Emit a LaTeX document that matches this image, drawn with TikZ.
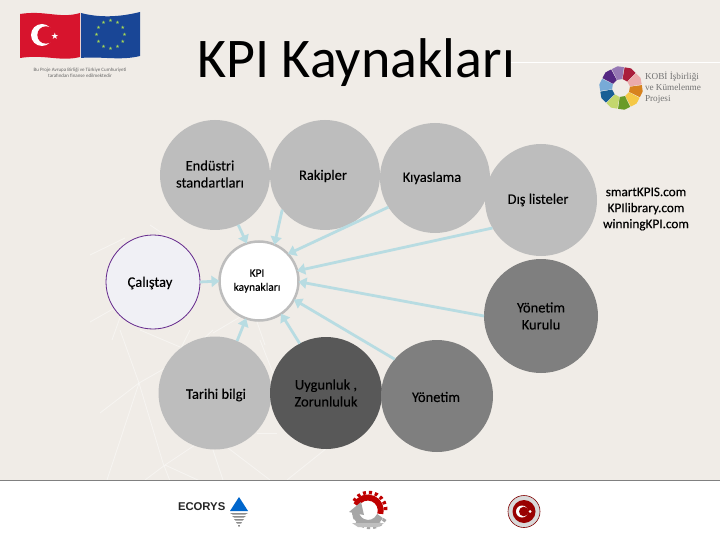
\documentclass[tikz,border=0pt]{standalone}
\usepackage{fontspec}
\setmainfont{Carlito}
\newfontfamily\labelf[FakeBold=0.3]{Carlito}
\newfontfamily\logoserif{Liberation Serif}
\newfontfamily\logosans{Liberation Sans}
\newfontfamily\symf{DejaVu Sans}
\definecolor{bgc}{RGB}{240,236,231}
\definecolor{arrc}{RGB}{184,220,226}
\definecolor{g1}{RGB}{189,189,189}
\definecolor{g3}{RGB}{127,127,127}
\definecolor{g4}{RGB}{88,88,88}
\definecolor{flagred}{RGB}{215,20,45}
\definecolor{flagblue}{RGB}{25,70,150}
\definecolor{palec}{RGB}{240,240,245}
\definecolor{purp}{RGB}{100,40,140}
\definecolor{wa}{RGB}{170,30,60}
\definecolor{wb}{RGB}{235,170,170}
\definecolor{wc}{RGB}{215,130,30}
\definecolor{wd}{RGB}{245,200,70}
\definecolor{we}{RGB}{105,155,40}
\definecolor{wf}{RGB}{195,215,110}
\definecolor{wg}{RGB}{25,95,150}
\definecolor{wh}{RGB}{120,170,215}
\definecolor{wi}{RGB}{85,40,130}
\definecolor{wj}{RGB}{150,120,180}
\usetikzlibrary{arrows.meta}
\tikzset{
 circ/.style={circle,inner sep=0pt,outer sep=0pt,minimum size=#1,fill=g1},
 lab/.style={inner sep=0pt,outer sep=0pt,align=center,font=\labelf\fontsize{14.5}{17}\selectfont,text=black},
 arr/.style={draw=arrc,line width=2.8pt,-{Triangle[length=8pt,width=11pt]}},
 faint/.style={draw=white,line width=0.8pt,opacity=.45},
 small/.style={inner sep=0pt,outer sep=0pt,align=center}}
\begin{document}
\begin{tikzpicture}[x=1pt,y=-1pt]
\useasboundingbox (0,0) rectangle (720,540);
\fill[bgc] (0,0) rectangle (720,481);
% background network
\draw[faint] (120,330) -- (139,383) -- (163,463) -- (170,481);
\draw[faint] (100,413) -- (139,383) -- (183,358) -- (213,330);
\draw[faint] (139,383) -- (107,480);
\draw[faint] (145,480) -- (165,465) -- (195,445);
\draw[faint] (165,465) -- (200,481);
\draw[faint] (213,450) -- (223,480);
\draw[faint] (228,448) -- (270,480);
\draw[faint] (287,480) -- (327,448);
\draw[faint] (140,330) -- (180,347);
\draw[faint] (190,330) -- (180,350);
\draw[faint] (260,340) -- (273,373);
\draw[faint] (257,433) -- (277,433);
\draw[faint] (257,322) -- (265,345);
\draw[faint] (240,317) -- (213,333);
\draw[faint] (90,255) -- (125,238);
\draw[faint] (90,322) -- (120,305);
\draw[faint] (112,340) -- (122,312);
\draw[faint] (150,225) -- (180,245);
\coordinate (ruleL) at (510,62); \coordinate (ruleR) at (720,62);
\draw[white,line width=0.8pt] (ruleL) -- (ruleR);
% footer
\fill[white] (0,481) rectangle (720,540);
\coordinate (footL) at (0,480.5); \coordinate (footR) at (720,480.5);
\draw[black!50,line width=1pt] (footL) -- (footR);
% title
\node[small,anchor=base west,font=\fontsize{56}{60}\selectfont] (title) at (197,78) {KPI Kaynakları};
% circles
\node[circ=110pt] (end) at (215,175) {};
\node[circ=110pt] (rak) at (325,175) {};
\node[circ=110pt] (kiy) at (435,178) {};
\node[circ=112pt] (dis) at (541,200) {};
\node[circ=94pt,fill=palec,draw=purp,line width=.8pt] (cal) at (153,282) {};
\node[circ=114pt,fill=g3] (yk) at (541,316) {};
\node[circ=113pt] (tar) at (215,393) {};
\node[circ=112pt,fill=g4] (uyg) at (326,393) {};
\node[circ=112pt,fill=g3] (yon) at (437,396) {};
\node[circ=79pt,fill=white,draw=g1,line width=2.5pt] (kpi) at (259,281) {};
% connectors
\draw[arr] (end.-65) -- (kpi.108);
\draw[arr] (rak.219) -- (kpi.67);
\draw[arr] (kiy.212) -- (kpi.43);
\draw[arr] (dis.210) -- (kpi.15);
\draw[arr] (yk.180) -- (kpi.-1);
\draw[arr] (yon.139) -- (kpi.-28);
\draw[arr] (uyg.118) -- (kpi.-56);
\draw[arr] (tar.67) -- (kpi.-109);
\draw[arr] (cal.0) -- (kpi.180);
% labels
\node[lab] (lend) at (210,174) {Endüstri\\standartları};
\node[lab] (lrak) at (323,176) {Rakipler};
\node[lab] (lkiy) at (432,178) {Kıyaslama};
\node[lab] (ldis) at (538,200) {Dış listeler};
\node[lab] (lcal) at (150,283) {Çalıştay};
\node[lab] (lyk) at (541,316) {Yönetim\\Kurulu};
\node[lab] (ltar) at (216,395) {Tarihi bilgi};
\node[lab] (luyg) at (326,393) {Uygunluk ,\\Zorunluluk};
\node[lab] (lyon) at (436,397) {Yönetim};
\node[lab,font=\labelf\fontsize{11.4}{14}\selectfont] (lkpi) at (257,281) {KPI\\kaynakları};
% right text
\node[lab,font=\labelf\fontsize{13.2}{16}\selectfont] (web) at (646,209) {smartKPIS.com\\KPIlibrary.com\\winningKPI.com};
% EU/TR flags logo
\fill[flagred] (20,14) .. controls (45,10) and (60,19) .. (80,13) -- (80,57) .. controls (60,62) and (45,54) .. (20,58) -- cycle;
\fill[flagblue] (81,13) .. controls (100,18) and (120,17) .. (140,12) -- (140,56) .. controls (120,61) and (100,56) .. (81,58) -- cycle;
\fill[white] (42,35) circle (11);
\fill[flagred] (46,35) circle (8.7);
\node[small,text=white,font=\symf\fontsize{9}{9}\selectfont] (trstar) at (55,36) {★};
\foreach \a in {0,30,...,330} \node[small,text=yellow!55!green!75!white,font=\symf\fontsize{5}{5}\selectfont] at ([shift={(\a:14)}]110.7,35) {★};
\node[small,text=black!60,font=\fontsize{5}{5.6}\selectfont] (eucap) at (80,72.5) {Bu Proje Avrupa Birliği ve Türkiye Cumhuriyeti\\tarafından finanse edilmektedir};
% wheel logo
\foreach \c/\a in {wa/-80,wb/-44,wc/-8,wd/28,we/64,wf/100,wg/136,wh/172,wi/208,wj/244}
 \fill[\c] ([shift={(\a:9)}]621,88) -- ([shift={(\a:21)}]621,88) -- ([shift={(\a+17:22)}]621,88) -- ([shift={(\a+34:21)}]621,88) -- ([shift={(\a+34:9)}]621,88) -- cycle;
\node[small,align=left,anchor=west,text=black!55,font=\logoserif\fontsize{9.2}{10.8}\selectfont] (kobi) at (645,87.5) {KOBİ İşbirliği\\ve Kümelenme\\Projesi};
% footer logos
\node[small,anchor=west,font=\logosans\bfseries\fontsize{11.3}{11}\selectfont,text=black!85] (eco) at (178,506.5) {ECORYS};
\fill[blue!50!cyan!80!black] (239,497) -- (248,511) -- (230,511) -- cycle;
\foreach \yy/\w in {513/9,516/7,519/5,522/3,525/1} \fill[black!45] (239-\w,\yy) -- (239+\w,\yy) -- (239+\w*.7,\yy+1.5) -- (239-\w*.7,\yy+1.5) -- cycle;
% gear logo
\draw[red!75!black,line width=3.5pt,dash pattern=on 3pt off 3pt] (354,501) arc[start angle=-150,end angle=10,radius=17];
\draw[red!75!black,line width=6pt] (356,505) arc[start angle=-155,end angle=15,radius=13];
\draw[black!35,line width=3.5pt,dash pattern=on 3pt off 3pt] (385,519) arc[start angle=30,end angle=165,radius=17];
\draw[black!35,line width=7pt] (380,516) arc[start angle=25,end angle=185,radius=13];
\fill[black!35] (349,512) -- (361,502) -- (364,515) -- cycle;
\fill[black!25] (352,523) -- (384,523) -- (378,527) -- (358,527) -- cycle;
% crest
\fill[black!15,draw=red!50!black,line width=.6pt] (524,511.5) circle (16);
\fill[red!60!black] (524,511.5) circle (11.5);
\fill[white] (522,511.5) circle (6);
\fill[red!60!black] (523.8,511.5) circle (4.8);
\fill[white] (530,511.5) circle (1.5);
\end{tikzpicture}
\end{document}
